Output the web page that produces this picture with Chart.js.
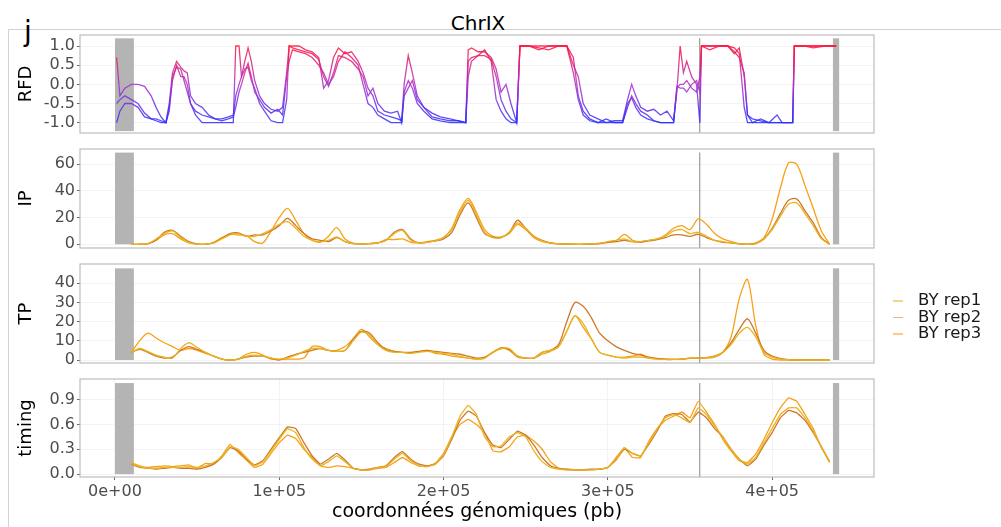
<!DOCTYPE html>
<html>
<head>
<meta charset="utf-8">
<script src="https://cdn.jsdelivr.net/npm/chart.js@4.4.1/dist/chart.umd.min.js"></script>
<style>
  body { margin: 0; width: 1001px; height: 527px; background: #fff; position: relative; overflow: hidden; font-family: 'DejaVu Sans', sans-serif; }
  canvas { position: absolute; left: 8px; }
  #frame { position: absolute; left: 8px; top: 29px; width: 1000px; height: 510px; border-left: 1px solid #d2d2d2; border-top: 1px solid #d2d2d2; }
  #titre { position: absolute; left: 378px; width: 200px; top: 13px; text-align: center; font-size: 20px; line-height: 20px; color: #000; }
  #lettre { position: absolute; left: 24px; top: 18px; font-size: 28px; line-height: 28px; color: #000; }
  #legende { position: absolute; left: 918px; top: 292px; font-size: 16.5px; line-height: 16.6px; color: #1a1a1a; }
  #legende div { position: relative; white-space: nowrap; }
  #legende span { position: absolute; left: -25px; top: 8px; width: 10px; height: 1.6px; }
</style>
</head>
<body>
<div id="frame"></div>
<div id="titre">ChrIX</div>
<div id="lettre">j</div>
<canvas id="rfd" width="872" height="122" style="top:23px"></canvas>
<canvas id="ip" width="872" height="123" style="top:137px"></canvas>
<canvas id="tp" width="872" height="123" style="top:252px"></canvas>
<canvas id="timing" width="872" height="155" style="top:367px"></canvas>
<div id="legende"></div>
<script>
// axe x commun (pb)
const xMin = -21300;
const xMax = 462000;
const xTicks = [0, 100000, 200000, 300000, 400000];
const xTickLabels = ['0e+00', '1e+05', '2e+05', '3e+05', '4e+05'];

// zones grises (télomères) et centromère
const greyBars = [[0, 11500], [437000, 440800]];
const centromere = 355900;

const repNames = ['BY rep1', 'BY rep2', 'BY rep3'];
const repColors = ['#e6b522', '#cf7629', '#f9a016'];

// RFD : positions (kb) et valeurs
const rfdPos = [1,3,6,10,14,18,22,25,28,31,
  33,35,37.5,40,42,44,46,49,53,57,
  61,65,69,72,73.5,75.5,77,79,81,83,
  85,88,91,95,99,102,104.5,106,108,112,
  116,120,124,127,130,133,136,140,144,148,
  151,154,157,160,164,168,172,174.5,176,178.5,
  181,184,188,193,198,204,209,213.5,215,217,
  221,225,229,232,235,238,241,244.5,246.5,252,
  258,264,270,275,279,282,285,289,294,299,
  304,309,312,314.5,317,320,324,328,332,336,
  340,342,344,346,348,351,354,356,357,362,
  368,373,377,380,383,385,388,393,398,403,
  406,412.5,413.5,420,425,432,439];
const rfdRep1 = [0.7,-0.3,-0.1,0.0,0.0,-0.05,-0.3,-0.6,-0.85,-1.0,
  -0.5,0.3,0.6,0.45,0.35,0.3,-0.3,-0.5,-0.6,-0.8,
  -0.9,-0.9,-0.85,-0.8,-0.3,0.0,0.2,0.6,0.95,0.6,
  0.1,-0.3,-0.5,-0.65,-0.7,-0.6,0.3,1.0,1.0,1.0,
  0.9,0.85,0.7,-0.1,0.1,0.7,0.95,0.8,0.85,0.6,
  0.3,-0.1,-0.3,-0.7,-0.8,-0.85,-0.9,-0.95,0.0,0.75,
  0.3,-0.3,-0.6,-0.85,-0.9,-0.95,-0.95,-1.0,0.9,0.95,
  0.85,0.85,0.7,0.4,-0.2,0.0,-0.5,-1.0,1.0,1.0,
  0.9,1.0,1.0,1.0,0.5,0.2,-0.5,-0.8,-0.9,-1.0,
  -0.95,-0.95,-0.4,0.0,-0.3,-0.6,-0.7,-0.65,-0.8,-0.7,
  -0.95,-0.2,1.0,0.3,0.6,0.2,0.0,-1.0,1.0,1.0,
  1.0,1.0,0.8,0.95,0.2,-0.8,-0.9,-0.95,-1.0,-0.8,
  -1.0,-1.0,1.0,1.0,0.95,1.0,1.0];
const rfdRep2 = [-0.5,-0.4,-0.3,-0.4,-0.5,-0.75,-0.9,-0.9,-0.95,-1.0,
  -0.7,0.2,0.45,0.4,0.1,-0.2,-0.5,-0.7,-0.8,-0.85,
  -0.9,-0.95,-0.9,-0.85,-0.6,-0.2,0.0,0.3,0.55,0.2,
  -0.2,-0.4,-0.6,-0.75,-0.65,-0.8,0.2,0.6,0.9,0.85,
  0.8,0.7,0.5,0.3,0.0,0.2,0.6,0.85,0.7,0.5,
  0.0,-0.5,-0.6,-0.8,-0.9,-1.0,-1.0,-1.0,-0.2,0.1,
  -0.1,-0.5,-0.7,-0.9,-0.95,-1.0,-1.0,-1.0,0.6,0.7,
  0.75,0.9,0.6,-0.4,-0.7,-0.9,-1.0,-1.0,1.0,1.0,
  1.0,1.0,1.0,1.0,0.7,-0.3,-0.7,-0.9,-1.0,-0.9,
  -1.0,-1.0,-0.6,-0.3,-0.5,-0.7,-0.8,-0.95,-1.0,-1.0,
  -1.0,-0.1,0.0,0.0,0.1,-0.1,-0.2,0.2,1.0,0.9,
  1.0,1.0,0.85,0.7,0.3,-0.8,-1.0,-0.9,-1.0,-1.0,
  -1.0,-1.0,1.0,1.0,1.0,1.0,1.0];
const rfdRep3 = [-1.0,-0.7,-0.5,-0.5,-0.6,-0.85,-0.9,-0.95,-1.0,-1.0,
  -0.6,0.1,0.5,0.2,0.2,0.0,-0.5,-0.8,-1.0,-1.0,
  -1.0,-1.0,-1.0,-1.0,1.0,1.0,0.2,0.4,0.45,0.1,
  -0.1,-0.5,-0.7,-0.95,-1.0,-1.0,-0.4,1.0,0.95,0.9,
  0.85,0.8,0.65,0.2,-0.05,0.3,0.75,0.7,0.6,0.4,
  0.2,-0.3,-0.1,-0.5,-0.7,-0.75,-0.7,-1.0,-0.3,-0.1,
  0.1,-0.4,-0.6,-0.75,-0.85,-0.9,-0.95,-1.0,0.2,0.6,
  0.75,0.75,0.65,0.2,-0.4,-0.7,-0.9,-1.0,1.0,1.0,
  0.95,0.9,1.0,1.0,0.3,-0.4,-0.8,-0.95,-1.0,-1.0,
  -1.0,-1.0,-0.5,-0.35,-0.6,-0.8,-0.9,-0.95,-1.0,-1.0,
  -1.0,-0.05,-0.1,-0.1,-0.2,0.0,0.1,-0.2,1.0,1.0,
  1.0,1.0,0.95,0.8,-0.6,-1.0,-1.0,-1.0,-1.0,-1.0,
  -1.0,-1.0,1.0,1.0,1.0,1.0,1.0];

// IP, TP, timing : positions (kb)
const gridPos = [10,15,20,25,30,35,40,45,50,55,
  60,65,70,75,80,85,90,95,100,105,
  110,115,120,125,130,135,140,145,150,155,
  160,165,170,175,180,185,190,195,200,205,
  210,215,220,225,230,235,240,245,250,255,
  260,265,270,275,280,285,290,295,300,305,
  310,315,320,325,330,335,340,345,350,355,
  360,365,370,375,380,385,390,395,400,405,
  410,415,420,425,430,435];

const ipRep1 = [0,0,0.5,4,8,10,5,1.5,0,0,
  1,4,7,8,6,6,8,11,15,17,
  12,6,3,2,3,5.5,2,0.5,0.2,0.5,
  1,3,8,10.5,3,1,1.5,2.5,5,11,
  24,33,22,9,5,5,9,16,12,6,
  2.5,1,0.3,0.2,0,0,0.3,0.8,2,3,
  4,2,2,3,4,6,10,11,8,9,
  6,3,2,1,0.3,0,0.5,4,11,21,
  30,31,23,14,4,0];
const ipRep2 = [0,0,0.5,3,9,10.5,6,2,0.3,0,
  1,4.5,8,8.5,6,7,7,10,14,19.5,
  14,8,4,3,2,5,2,0.5,0.3,0.5,
  1,3,9,11,4,1,1.5,2.5,4,9,
  22,31,20,8,5.5,5,9,18,12,6,
  3,1,0.3,0.2,0,0,0.2,0.5,1.5,2,
  3,2,1.5,2.5,3.5,5,7,7,6,7.5,
  5,3,1.5,1,0.3,0,0.5,4,12,23,
  33,34,25,16,5,0];
const ipRep3 = [0,0,0.3,3,7,8,4,1,0,0,
  1.5,5,7.5,7,6.5,2,1,10,20,27,
  18,8,3,1.5,6,12.5,4,0.8,0.3,0.5,
  1,3.5,3.5,4,1.5,1,2,3,5,12,
  26,34.5,24,11,6,5.5,8,15,11,5,
  2,0.8,0.3,0.2,0,0,0.2,0.5,1.5,2.5,
  7.5,3,2,3,4,7,12,14,11,19,
  15,8,4,2,0.5,0,1,5,19,42,
  61,60,44,27,10,0];

const tpRep1 = [4,6,4.5,2.5,1.5,1,6,9,6.5,4,
  2,0.5,0,0.5,2,2.5,2,1,0.5,1,
  2.5,4.5,6,6,5,4.5,5,10,14.5,13,
  8,5,4,4,3.5,4,4.5,4,3.5,3,
  2,1,0.5,1,4,6,6,2,1,1,
  4,5,7,15,23,19,11,4,2.5,1.5,
  1,1.5,1.5,1,0.5,0.3,0.3,0.5,1,1,
  1.2,2,4,8,14,17,12,4,1.5,0.5,
  0.2,0,0,0,0,0];
const tpRep2 = [4,5.5,4,2,1,1.5,5,7,5.5,4,
  2,0.5,0,0.5,1.5,2,2,1,0,1.5,
  3,4,5,6,5,4.5,5,11,15,14,
  9,5.5,4.5,4,4,4.5,5,4.5,4,3.5,
  3,2,1,1.5,4,6,5.5,2,1,1,
  4,5,8,20,30,28,22,14,10,7,
  5,3.5,2.5,1.5,0.8,0.5,0.3,0.5,1,1,
  1.2,2,4,9,16,21.5,14,5,2,0.8,
  0.2,0,0,0,0,0];
const tpRep3 = [4,10,14,11.5,9,7,5,6,5,3.5,
  2,0.5,0,0.5,3,4,2.5,0.5,0.3,0.5,
  0.5,1,7,7,5,5,7,11,16,12,
  8,6,4.5,4,3.5,4.5,5,3.5,3,2,
  1.5,1,0.5,1,4,6.5,5,1.5,1,1,
  3,4.5,7,15,23,17,11,4,2.5,1.5,
  1.5,2,3,1,0.5,0.3,0.3,0.5,0.8,1,
  1,1.5,4,12,32,42,18,3,0.5,0,
  0,0,0,0,0,0];

const timingRep1 = [0.13,0.09,0.07,0.07,0.08,0.08,0.08,0.09,0.08,0.1,
  0.14,0.2,0.33,0.3,0.2,0.1,0.15,0.28,0.42,0.55,
  0.5,0.32,0.18,0.1,0.15,0.22,0.15,0.07,0.05,0.05,
  0.08,0.09,0.18,0.25,0.16,0.1,0.09,0.12,0.23,0.45,
  0.7,0.83,0.72,0.45,0.33,0.34,0.45,0.5,0.45,0.28,
  0.15,0.08,0.06,0.05,0.05,0.05,0.05,0.06,0.08,0.18,
  0.32,0.25,0.22,0.38,0.55,0.68,0.72,0.68,0.62,0.8,
  0.72,0.58,0.45,0.3,0.18,0.12,0.2,0.38,0.55,0.72,
  0.8,0.8,0.68,0.52,0.32,0.15];
const timingRep2 = [0.12,0.08,0.07,0.06,0.07,0.08,0.07,0.07,0.06,0.08,
  0.12,0.2,0.32,0.28,0.18,0.11,0.16,0.3,0.44,0.57,
  0.55,0.38,0.22,0.12,0.18,0.25,0.17,0.07,0.05,0.06,
  0.08,0.1,0.2,0.27,0.18,0.12,0.1,0.12,0.22,0.42,
  0.65,0.76,0.7,0.5,0.35,0.32,0.42,0.52,0.47,0.35,
  0.2,0.1,0.07,0.06,0.05,0.05,0.06,0.06,0.08,0.17,
  0.3,0.25,0.22,0.36,0.52,0.7,0.73,0.72,0.63,0.75,
  0.68,0.55,0.45,0.3,0.18,0.1,0.18,0.35,0.5,0.68,
  0.77,0.74,0.65,0.5,0.33,0.15];
const timingRep3 = [0.14,0.1,0.08,0.09,0.1,0.09,0.1,0.11,0.07,0.13,
  0.12,0.22,0.36,0.26,0.17,0.08,0.12,0.25,0.38,0.47,
  0.43,0.3,0.2,0.1,0.08,0.1,0.09,0.07,0.05,0.05,
  0.07,0.08,0.14,0.2,0.14,0.1,0.09,0.13,0.25,0.45,
  0.6,0.66,0.6,0.5,0.28,0.27,0.33,0.45,0.47,0.4,
  0.3,0.15,0.07,0.05,0.05,0.05,0.05,0.06,0.08,0.2,
  0.32,0.2,0.2,0.4,0.55,0.65,0.7,0.75,0.68,0.88,
  0.75,0.6,0.42,0.28,0.16,0.14,0.24,0.42,0.62,0.8,
  0.92,0.88,0.72,0.55,0.32,0.14];

// graduations des axes y
const rfdTicks = [-1, -0.5, 0, 0.5, 1];
const rfdTickLabels = ['-1.0', '-0.5', '0.0', '0.5', '1.0'];
const ipTicks = [0, 20, 40, 60];
const ipTickLabels = ['0', '20', '40', '60'];
const tpTicks = [0, 10, 20, 30, 40];
const tpTickLabels = ['0', '10', '20', '30', '40'];
const timingTicks = [0, 0.3, 0.6, 0.9];
const timingTickLabels = ['0.0', '0.3', '0.6', '0.9'];

Chart.defaults.font.family = "'DejaVu Sans', sans-serif";

function toPoints(pos, vals) {
    return pos.map((p, i) => ({ x: p * 1000, y: vals[i] }));
}

function rfdGradient(chart) {
    const { ctx, chartArea, scales } = chart;
    if (!chartArea) return '#8040c0';
    const y = scales.y;
    const g = ctx.createLinearGradient(0, y.getPixelForValue(1), 0, y.getPixelForValue(-1));
    g.addColorStop(0, 'rgba(255,20,60,0.85)');
    g.addColorStop(0.5, 'rgba(175,45,200,0.85)');
    g.addColorStop(1, 'rgba(45,45,255,0.85)');
    return g;
}

// zones grises, centromère et cadre du panneau
const panelDecor = {
    id: 'panelDecor',
    beforeDatasetsDraw(chart, args, opts) {
        const { ctx, chartArea, scales: { x, y } } = chart;
        const yTop = y.getPixelForValue(opts.top);
        const yBot = y.getPixelForValue(opts.bottom);
        ctx.save();
        ctx.fillStyle = '#b4b4b4';
        greyBars.forEach(([a, b]) => {
            const x0 = x.getPixelForValue(a);
            const x1 = x.getPixelForValue(b);
            ctx.fillRect(x0, yTop, x1 - x0, yBot - yTop);
        });
        ctx.strokeStyle = '#9c9c9c';
        ctx.lineWidth = 1.2;
        const cx = x.getPixelForValue(centromere);
        ctx.beginPath();
        ctx.moveTo(cx, yTop);
        ctx.lineTo(cx, chartArea.bottom);
        ctx.stroke();
        ctx.restore();
    },
    afterDraw(chart) {
        const { ctx, chartArea } = chart;
        ctx.save();
        ctx.strokeStyle = '#bcbcbc';
        ctx.lineWidth = 1.2;
        ctx.strokeRect(chartArea.left, chartArea.top, chartArea.right - chartArea.left, chartArea.bottom - chartArea.top);
        ctx.restore();
    }
};

function creerPanneau(id, p) {
    const datasets = p.series.map((vals, i) => ({
        label: repNames[i],
        data: toPoints(p.pos, vals),
        borderColor: p.gradient ? (c => rfdGradient(c.chart)) : repColors[i],
        borderWidth: 1.3,
        pointRadius: 0,
        tension: p.tension
    }));

    return new Chart(document.getElementById(id), {
        type: 'line',
        data: { datasets: datasets },
        plugins: [panelDecor],
        options: {
            responsive: false,
            animation: false,
            devicePixelRatio: 1,
            layout: { padding: { top: 12, bottom: p.last ? 0 : 12, left: 0, right: 6 } },
            plugins: {
                legend: { display: false },
                tooltip: { enabled: false },
                panelDecor: { top: p.barTop, bottom: p.barBottom }
            },
            scales: {
                x: {
                    type: 'linear',
                    min: xMin,
                    max: xMax,
                    display: !!p.last,
                    afterBuildTicks: s => { s.ticks = xTicks.map(v => ({ value: v })); },
                    ticks: {
                        callback: (v, i) => xTickLabels[i],
                        color: '#4d4d4d',
                        font: { size: 16, lineHeight: 1.25 },
                        padding: 2,
                        maxRotation: 0,
                        autoSkip: false
                    },
                    grid: { color: '#f3f3f3', tickColor: '#666', tickLength: 3 },
                    border: { display: false },
                    title: {
                        display: true,
                        text: 'coordonnées génomiques (pb)',
                        color: '#000',
                        font: { size: 19, lineHeight: 1 },
                        padding: { top: -1, bottom: 0 }
                    }
                },
                y: {
                    min: p.min,
                    max: p.max,
                    afterBuildTicks: s => { s.ticks = p.ticks.map(v => ({ value: v })); },
                    afterFit: s => { s.width = 72; },
                    ticks: {
                        callback: (v, i) => p.tickLabels[i],
                        color: '#4d4d4d',
                        font: { size: 16 },
                        padding: 2,
                        autoSkip: false
                    },
                    grid: { color: '#f3f3f3', tickColor: '#666', tickLength: 3 },
                    border: { display: false },
                    title: {
                        display: true,
                        text: p.title,
                        color: '#000',
                        font: { size: 18, lineHeight: 1.2 },
                        padding: { top: 8, bottom: 0 }
                    }
                }
            }
        }
    });
}

creerPanneau('rfd', {
    title: 'RFD', pos: rfdPos, series: [rfdRep1, rfdRep2, rfdRep3], gradient: true, tension: 0,
    min: -1.269, max: 1.287, ticks: rfdTicks, tickLabels: rfdTickLabels, barTop: 1.2, barBottom: -1.22
});
creerPanneau('ip', {
    title: 'IP', pos: gridPos, series: [ipRep1, ipRep2, ipRep3], tension: 0.3,
    min: -2.8, max: 71.5, ticks: ipTicks, tickLabels: ipTickLabels, barTop: 68.8, barBottom: 0
});
creerPanneau('tp', {
    title: 'TP', pos: gridPos, series: [tpRep1, tpRep2, tpRep3], tension: 0.3,
    min: -1.56, max: 50.07, ticks: tpTicks, tickLabels: tpTickLabels, barTop: 47.8, barBottom: 0
});
creerPanneau('timing', {
    title: 'timing', pos: gridPos, series: [timingRep1, timingRep2, timingRep3], last: true, tension: 0.1,
    min: -0.0355, max: 1.149, ticks: timingTicks, tickLabels: timingTickLabels, barTop: 1.1, barBottom: 0
});

// légende
const legende = document.getElementById('legende');
repNames.forEach((nom, i) => {
    const ligne = document.createElement('div');
    const trait = document.createElement('span');
    trait.style.background = repColors[i];
    trait.style.opacity = 0.55;
    ligne.appendChild(trait);
    ligne.appendChild(document.createTextNode(nom));
    legende.appendChild(ligne);
});
</script>
</body>
</html>
